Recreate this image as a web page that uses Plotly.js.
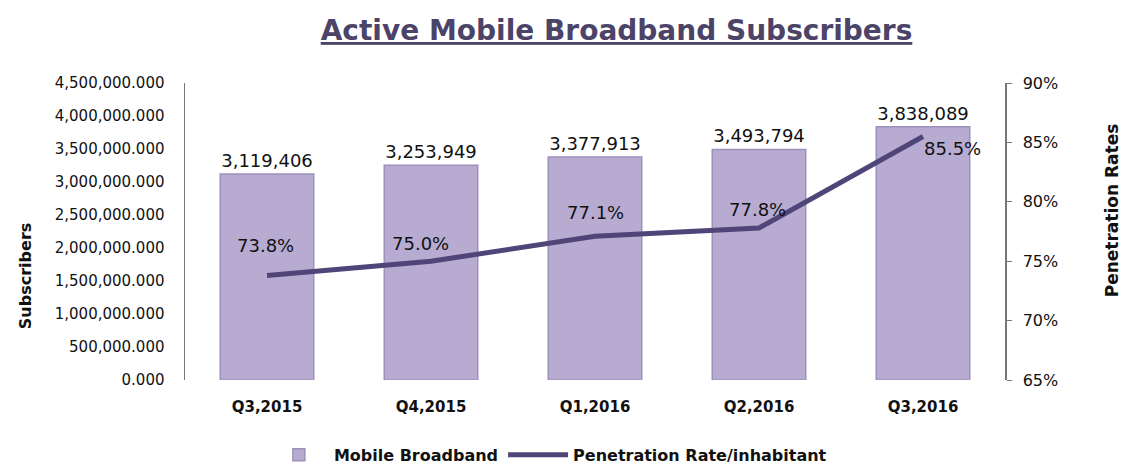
<!DOCTYPE html>
<html><head><meta charset="utf-8">
<script src="https://cdn.plot.ly/plotly-3.0.1.min.js"></script>
<style>html,body{margin:0;padding:0;background:#fff;}#chart{width:1125px;height:465px;}</style>
</head><body><div id="chart"></div>
<script>
const quarters = ['Q3,2015','Q4,2015','Q1,2016','Q2,2016','Q3,2016'];
const subscribers = [3119406, 3253949, 3377913, 3493794, 3838089];
const penetration = [73.8, 75.0, 77.1, 77.8, 85.5];
const leftTicks = [0,500000,1000000,1500000,2000000,2500000,3000000,3500000,4000000,4500000];
const rightTicks = [65,70,75,80,85,90];

const fmtNum = v => v.toLocaleString('en-US');
const fontFam = '"DejaVu Sans", sans-serif';

const bars = {
  type:'bar', x: quarters, y: subscribers, name:'Mobile Broadband',
  marker:{color:'#b7abd2', line:{color:'#9d90bb', width:1.5}},
  width:0.57,
  text: subscribers.map(fmtNum), textposition:'outside',
  textfont:{size:18, color:'#111', family:fontFam},
  cliponaxis:false, hoverinfo:'x+y'
};
const line = {
  type:'scatter', mode:'lines', x: quarters, y: penetration, yaxis:'y2',
  name:'Penetration Rate/inhabitant',
  line:{color:'#4f4578', width:5},
  cliponaxis:false
};

// label offsets (pixels) for the penetration labels
const lblShiftX = [-2, -11, 0, -2, 29];
const lblShiftY = [30, 18, 24, 18, -12];
const annotations = penetration.map((v,i) => ({
  x: quarters[i], y: v, xref:'x', yref:'y2',
  text: v.toFixed(1)+'%', showarrow:false,
  xshift: lblShiftX[i], yshift: lblShiftY[i],
  font:{size:18, color:'#111', family:fontFam}
}));
annotations.push({
  text:'<b>Subscribers</b>', xref:'paper', yref:'paper', x:-0.195, y:0.35,
  xanchor:'center', yanchor:'middle', textangle:-90, showarrow:false,
  font:{size:16, color:'#111', family:fontFam}
});
annotations.push({
  text:'<b>Penetration Rates</b>', xref:'paper', yref:'paper', x:1.13, y:0.57,
  xanchor:'center', yanchor:'middle', textangle:-90, showarrow:false,
  font:{size:17, color:'#111', family:fontFam}
});

const layout = {
  width:1125, height:465,
  margin:{l:185, r:120, t:83, b:85},
  paper_bgcolor:'#ffffff', plot_bgcolor:'#ffffff',
  title:{text:'<b><u>Active Mobile Broadband Subscribers</u></b>', x:0.548, xanchor:'center', y:0.935, yanchor:'middle',
         font:{size:28, color:'#4b4368', family:fontFam}},
  xaxis:{tickfont:{size:15, color:'#111', family:fontFam, weight:'bold'}, showline:false, ticks:'', ticklabelstandoff:16},
  yaxis:{range:[0,4500000], tickvals:leftTicks, ticktext:leftTicks.map(v=>fmtNum(v)+'.000'),
         tickfont:{size:15, color:'#111', family:fontFam}, showgrid:false, zeroline:false,
         showline:true, linecolor:'#777', linewidth:1.5, ticks:'', ticklabelstandoff:16},
  yaxis2:{range:[65,90], tickvals:rightTicks, ticktext:rightTicks.map(v=>v+'%'), overlaying:'y', side:'right',
         tickfont:{size:16, color:'#111', family:fontFam}, showgrid:false, zeroline:false,
         showline:true, linecolor:'#777', linewidth:1.5, ticks:'outside', ticklen:5, tickcolor:'#777',
         ticklabelstandoff:8},
  showlegend:true,
  legend:{orientation:'h', xref:'container', x:0.487, xanchor:'center', yref:'container', y:0.022, yanchor:'middle',
          font:{size:16, color:'#111', family:fontFam, weight:'bold'}, itemwidth:60},
  annotations: annotations
};
Plotly.newPlot('chart', [bars, line], layout, {displayModeBar:false, staticPlot:true});
</script></body></html>
